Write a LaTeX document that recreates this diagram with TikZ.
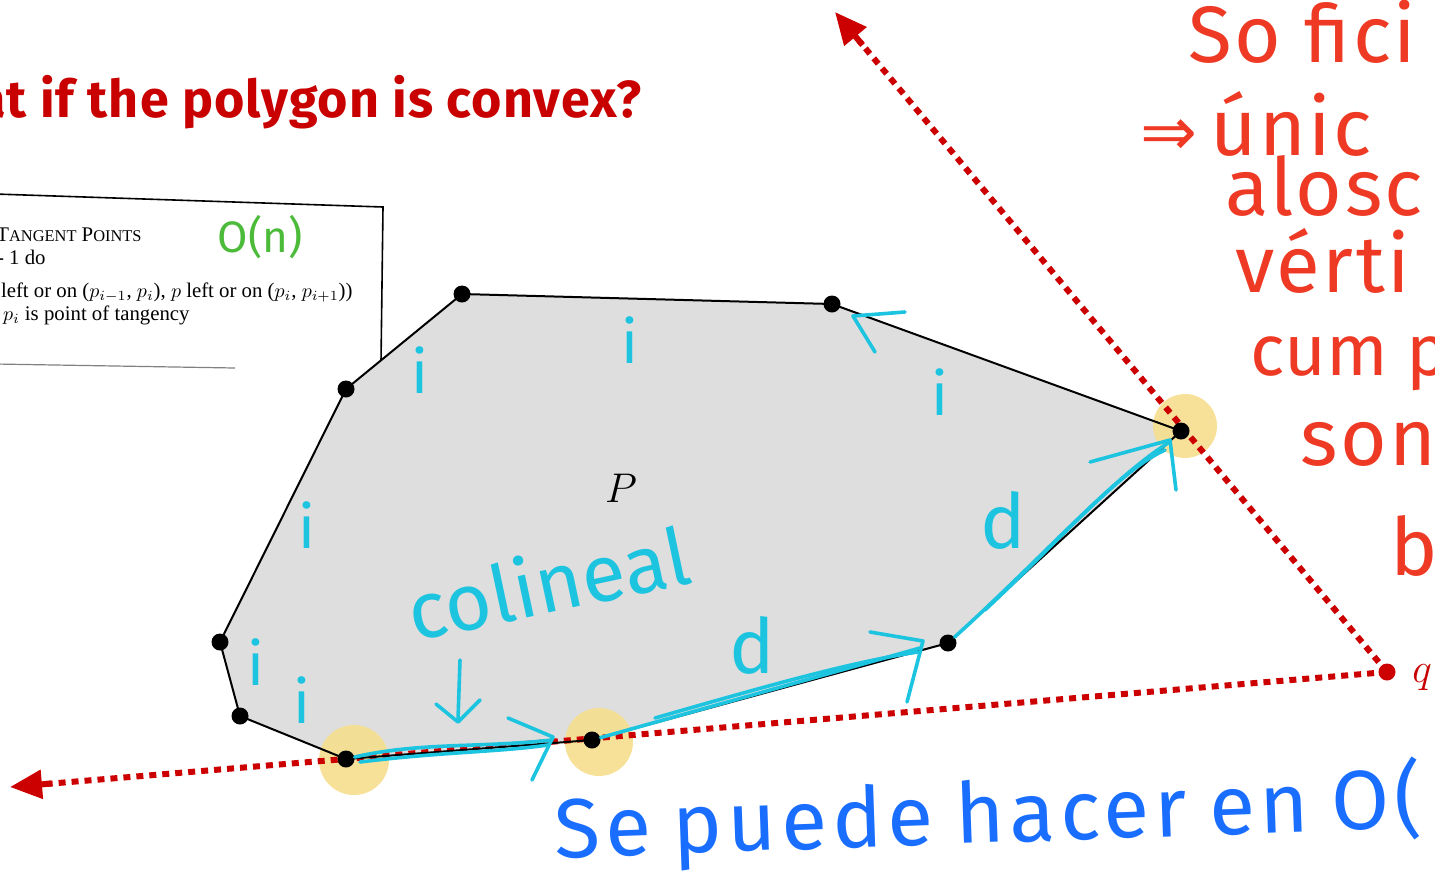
\documentclass[tikz,border=0pt]{standalone}
\usepackage{fontspec}
\newfontfamily\titlef{Fira Sans}[LetterSpace=2]
\newfontfamily\hand{Fira Sans}
\newfontfamily\handw{Fira Sans}[LetterSpace=6]
\newfontfamily\handr{Fira Sans}[LetterSpace=3]
\newfontfamily\algf{Liberation Serif}
\newfontfamily\symf{DejaVu Sans}
\usetikzlibrary{arrows.meta,calc}
\definecolor{tred}{HTML}{C80000}
\definecolor{dred}{HTML}{CC0000}
\definecolor{hred}{HTML}{EE3A24}
\definecolor{cyn}{HTML}{1CC4E0}
\definecolor{hblue}{HTML}{1A6EFF}
\definecolor{hgreen}{HTML}{4CBB3A}
\definecolor{hly}{HTML}{F6DE8E}
\definecolor{polyfill}{HTML}{DEDEDE}
\tikzset{
  vtx/.style={circle,fill=black,inner sep=0pt,minimum size=8.5pt},
  polyedge/.style={line width=1pt,black,line join=round},
  tang/.style={line width=3pt,color=dred,dash pattern=on 3.5pt off 3pt},
  tangtip/.style={line width=3pt,color=dred,-{Triangle[length=16pt,width=14pt]}},
  hl/.style={circle,fill=hly,opacity=0.9,inner sep=0pt},
  cy/.style={line width=1.8pt,color=cyn,line cap=round,line join=round},
  cyt/.style={text=cyn,font=\hand\fontsize{30}{32}\selectfont,inner sep=0pt},
  redt/.style={text=hred,font=\handr\fontsize{40}{42}\selectfont,anchor=base west,inner sep=0pt},
  algt/.style={font=\algf\fontsize{10.4}{12}\selectfont,anchor=base east,inner sep=0pt},
}
\begin{document}
\begin{tikzpicture}[x=0.5pt,y=-0.5pt]
\useasboundingbox (0,0) rectangle (1435,874);
% title
\node[anchor=base east,text=tred,font=\titlef\bfseries\fontsize{26}{30}\selectfont,inner sep=0pt] (title) at (642,117) {What if the polygon is convex?};
% algorithm box
\coordinate (b1) at (-5,194);
\coordinate (b2) at (383,207);
\coordinate (b3) at (381,362);
\coordinate (b4) at (-5,364);
\coordinate (b5) at (235,368);
\draw[line width=0.8pt] (b1) -- (b2) -- (b3);
\draw[line width=0.6pt,gray] (b4) -- (b5);
\node[algt] (al1) at (142,241) {T{\fontsize{8.2}{9}\selectfont ANGENT} P{\fontsize{8.2}{9}\selectfont OINTS}};
\node[algt] (al2) at (46,264) {\textbf{for} $i$ = 2 \textbf{to} $n$ -- 1 do};
\node[algt] (al3) at (353,297) {\textbf{if} ($p$ left or on ($p_{i-1}$, $p_i$), $p$ left or on ($p_i$, $p_{i+1}$))};
\node[algt] (al4) at (190,320) {\textbf{then} $p_i$ is point of tangency};
\node[text=hgreen,font=\hand\fontsize{22}{24}\selectfont,inner sep=0pt] (on) at (260,237) {O(n)};
% polygon vertices
\coordinate (c1) at (462,294);
\coordinate (c2) at (832,304);
\coordinate (c3) at (1181,431);
\coordinate (c4) at (948,643);
\coordinate (c5) at (592,740);
\coordinate (c6) at (346,759);
\coordinate (c7) at (240,716);
\coordinate (c8) at (220,642);
\coordinate (c9) at (346,389);
\coordinate (q) at (1387,672);
\coordinate (a1) at (835,12);
\coordinate (a2) at (10,787);
\fill[polyfill] (c1) -- (c2) -- (c3) -- (c4) -- (c5) -- (c6) -- (c7) -- (c8) -- (c9) -- cycle;
% highlights
\node[hl,minimum width=33pt,minimum height=35pt] (h6) at (354,760) {};
\node[hl,minimum width=30pt,minimum height=34pt] (h5) at (599,742) {};
\node[hl,minimum width=32pt,minimum height=30pt] (h3) at (1185,426) {};
% tangent lines
\draw[tang] (q) -- ($(q)!0.955!(a1)$);
\draw[tangtip] ($(q)!0.95!(a1)$) -- (a1);
\draw[tang] (q) -- ($(q)!0.975!(a2)$);
\draw[tangtip] ($(q)!0.97!(a2)$) -- (a2);
\node[circle,fill=dred,inner sep=0pt,minimum size=8.5pt] (qd) at (q) {};
\node[anchor=west,text=tred,font=\fontsize{20}{22}\selectfont,inner sep=0pt] (ql) at (1412,678) {$q$};
% polygon edges
\draw[polyedge] (c1) -- (c2) -- (c3) -- (c4) -- (c5) -- (c6) -- (c7) -- (c8) -- (c9) -- cycle;
\foreach \i in {1,...,9} { \node[vtx] (v\i) at (c\i) {}; }
\node[font=\fontsize{22}{24}\selectfont] (P) at (621,488) {$P$};
% cyan annotations
\draw[cy] (v6) .. controls (420,742) and (480,748) .. (552,740);
\draw[cy] (360,762) .. controls (440,752) and (500,752) .. (548,745);
\draw[cy] (508,718) -- (553,737) -- (532,780);
\draw[cy] (v5) -- (920,648);
\draw[cy] (655,718) .. controls (760,688) and (850,662) .. (918,652);
\draw[cy] (870,632) -- (923,641) -- (907,702);
\draw[cy] (v4) .. controls (1040,560) and (1110,480) .. (1168,443);
\draw[cy] (985,610) .. controls (1060,540) and (1120,470) .. (1165,450);
\draw[cy] (1090,462) -- (1170,440) -- (1176,490);
\draw[cy] (905,312) -- (853,316) -- (875,352);
\draw[cy] (460,660) -- (458,720);
\draw[cy] (436,704) -- (458,722) -- (480,700);
\node[cyt] (i1) at (420,370) {i};
\node[cyt] (i2) at (630,340) {i};
\node[cyt] (i3) at (940,392) {i};
\node[cyt] (i4) at (307,525) {i};
\node[cyt] (i5) at (256,662) {i};
\node[cyt] (i6) at (302,700) {i};
\node[cyt,font=\hand\fontsize{38}{40}\selectfont] (d1) at (752,645) {d};
\node[cyt,font=\hand\fontsize{38}{40}\selectfont] (d2) at (1003,520) {d};
\node[cyt,font=\hand\fontsize{40}{42}\selectfont,rotate=12] (col) at (548,582) {colineal};
% red handwriting
\node[redt] (r1) at (1188,62) {So fici};
\node[redt] (r2) at (1140,155) {{\symf\fontsize{34}{36}\selectfont ⇒}\,únic};
\node[redt] (r3) at (1225,215) {alosc};
\node[redt] (r4) at (1235,292) {vérti};
\node[redt,font=\hand\fontsize{36}{38}\selectfont] (r5) at (1250,375) {cum p};
\node[redt] (r6) at (1300,465) {son};
\node[redt] (r7) at (1390,575) {b};
% blue handwriting
\node[anchor=base west,text=hblue,font=\handw\fontsize{42}{44}\selectfont,inner sep=0pt,rotate=2] (blue) at (555,858) {\spaceskip=11pt Se puede hacer en O(};
\end{tikzpicture}
\end{document}
